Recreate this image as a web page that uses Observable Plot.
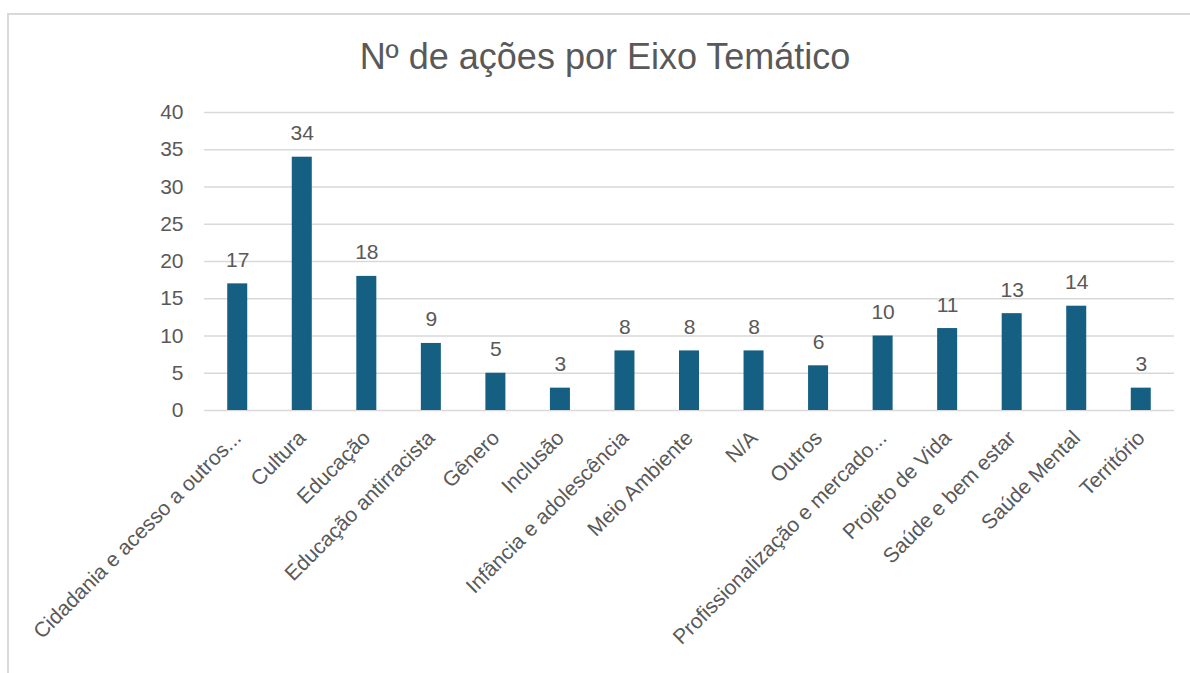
<!DOCTYPE html>
<html>
<head>
<meta charset="utf-8">
<script src="https://cdn.jsdelivr.net/npm/d3@7"></script>
<script src="https://cdn.jsdelivr.net/npm/@observablehq/plot@0.6"></script>
<style>
  html, body { margin: 0; padding: 0; background: #fff; width: 1190px; height: 673px; overflow: hidden; }
  #frame { position: absolute; left: 7px; top: 13px; width: 1200px; height: 700px; border: 2px solid #d9d9d9; box-sizing: border-box; }
  #title { position: absolute; left: 0; width: 1210px; top: 36px; text-align: center; font-family: "Liberation Sans", Arial, sans-serif; font-size: 36px; color: #595959; }
  #chart { position: absolute; left: 0; top: 0; }
</style>
</head>
<body>
<div id="frame"></div>
<div id="title">Nº de ações por Eixo Temático</div>
<div id="chart"></div>
<script>
const categories = [
  "Cidadania e acesso a outros...",
  "Cultura",
  "Educação",
  "Educação antirracista",
  "Gênero",
  "Inclusão",
  "Infância e adolescência",
  "Meio Ambiente",
  "N/A",
  "Outros",
  "Profissionalização e mercado...",
  "Projeto de Vida",
  "Saúde e bem estar",
  "Saúde Mental",
  "Território"
];
const values = [17, 34, 18, 9, 5, 3, 8, 8, 8, 6, 10, 11, 13, 14, 3];
const yTicks = [0, 5, 10, 15, 20, 25, 30, 35, 40];

const data = categories.map((c, i) => ({category: c, value: values[i]}));

const chart = Plot.plot({
  width: 1190,
  height: 673,
  marginLeft: 204,
  marginRight: 16,
  marginTop: 112,
  marginBottom: 263,
  style: { fontFamily: "Liberation Sans, Arial, sans-serif", fontSize: "21px", color: "#595959", background: "transparent" },
  x: { type: "band", domain: categories, paddingInner: 0.69, paddingOuter: 0.36, round: false, label: null, tickSize: 0, tickRotate: -45, tickPadding: 24 },
  y: { domain: [0, 40], ticks: yTicks, label: null, tickSize: 0, tickPadding: 21 },
  marks: [
    Plot.gridY(yTicks, { stroke: "#d9d9d9", strokeOpacity: 1, strokeWidth: 1.5 }),
    Plot.barY(data, { x: "category", y: "value", fill: "#156082" }),
    Plot.text(data, { x: "category", y: "value", text: d => String(d.value), dy: -17, lineAnchor: "bottom", fill: "#595959", fontSize: 21 })
  ]
});
document.getElementById("chart").appendChild(chart);
</script>
</body>
</html>
